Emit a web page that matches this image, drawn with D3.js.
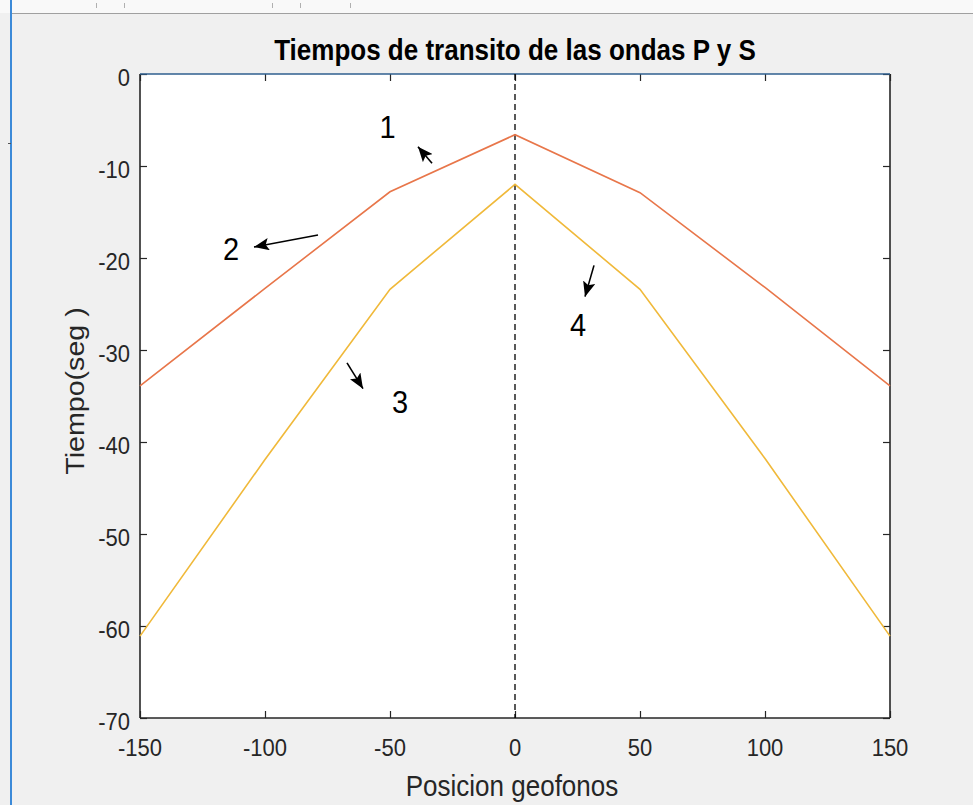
<!DOCTYPE html>
<html>
<head>
<meta charset="utf-8">
<script src="https://cdn.jsdelivr.net/npm/d3@7"></script>
<style>
  html, body { margin: 0; padding: 0; background: #f0f0f0; }
  svg { display: block; font-family: "Liberation Sans", Arial, Helvetica, sans-serif; }
</style>
</head>
<body>
<svg id="chart" width="973" height="805"></svg>
<script>
// Geophone positions (m) and travel times for the two wave types
const positions = [-150, -100, -50, 0, 50, 100, 150];
const waveP = [-33.9, -23.3, -12.8, -6.6, -12.9, -23.2, -33.9];
const waveS = [-61.1, -41.9, -23.4, -12.0, -23.4, -41.8, -61.1];
const xTicks = [-150, -100, -50, 0, 50, 100, 150];
const yTicks = [0, -10, -20, -30, -40, -50, -60, -70];

// Numbered callouts: label position and arrow (tail -> tip) in data units
const callouts = [
  { label: "1", lx: -51, ly: -5.8, x1: -33.2, y1: -9.7, x2: -38.8, y2: -7.9 },
  { label: "2", lx: -113.6, ly: -19.0, x1: -78.8, y1: -17.5, x2: -104.4, y2: -18.8 },
  { label: "3", lx: -46, ly: -35.6, x1: -67.2, y1: -31.4, x2: -60.8, y2: -34.2 },
  { label: "4", lx: 25.2, ly: -27.3, x1: 31.6, y1: -20.8, x2: 28, y2: -24.2 }
];

const svg = d3.select("#chart");
const W = 973, H = 805;
const ink = "#262626";
const stretch = 1.1; // text is drawn slightly taller than wide

// Window frame: light strip on top with a divider and a blue edge at left
svg.append("rect").attr("x", 0).attr("y", 0).attr("width", W).attr("height", H).attr("fill", "#f0f0f0");
svg.append("rect").attr("x", 0).attr("y", 0).attr("width", W).attr("height", 13).attr("fill", "#f9f9f9");
svg.append("line").attr("x1", 10).attr("x2", W).attr("y1", 13.5).attr("y2", 13.5).attr("stroke", "#a0a0a0").attr("stroke-width", 1);
[96, 124, 272, 300, 350].forEach(px => {
  svg.append("line").attr("x1", px + 0.5).attr("x2", px + 0.5).attr("y1", 3).attr("y2", 8).attr("stroke", "#b0b0b0");
});
svg.append("line").attr("x1", 11).attr("x2", 11).attr("y1", 0).attr("y2", H).attr("stroke", "#3c8ad8").attr("stroke-width", 2);
svg.append("line").attr("x1", 8).attr("x2", 11).attr("y1", 143.5).attr("y2", 143.5).attr("stroke", "#555");

const m = { left: 140, right: 890, top: 74, bottom: 718 };
const x = d3.scaleLinear().domain([-150, 150]).range([m.left, m.right]);
const y = d3.scaleLinear().domain([-70, 0]).range([m.bottom, m.top]);

// Plot area
svg.append("rect")
  .attr("x", m.left).attr("y", m.top)
  .attr("width", m.right - m.left).attr("height", m.bottom - m.top)
  .attr("fill", "#ffffff");

// Ticks on all four sides, pointing inward
const tickLen = 7;
const axes = [
  svg.append("g").attr("transform", `translate(0,${m.bottom})`)
    .call(d3.axisBottom(x).tickValues(xTicks).tickSizeInner(-tickLen).tickSizeOuter(0).tickFormat("")),
  svg.append("g").attr("transform", `translate(0,${m.top})`)
    .call(d3.axisTop(x).tickValues(xTicks).tickSizeInner(-tickLen).tickSizeOuter(0).tickFormat("")),
  svg.append("g").attr("transform", `translate(${m.left},0)`)
    .call(d3.axisLeft(y).tickValues(yTicks).tickSizeInner(-tickLen).tickSizeOuter(0).tickFormat("")),
  svg.append("g").attr("transform", `translate(${m.right},0)`)
    .call(d3.axisRight(y).tickValues(yTicks).tickSizeInner(-tickLen).tickSizeOuter(0).tickFormat(""))
];
axes.forEach(g => {
  g.select(".domain").remove();
  g.selectAll(".tick line").attr("stroke", ink).attr("stroke-width", 1.2);
});

// Tick labels (plain hyphen minus)
const fmt = d => String(d);
svg.append("g").selectAll("text").data(xTicks).join("text")
  .attr("transform", d => `translate(${x(d)},756) scale(1,${stretch})`)
  .attr("text-anchor", "middle").attr("font-size", 22).attr("fill", ink)
  .text(fmt);
svg.append("g").selectAll("text").data(yTicks).join("text")
  .attr("transform", d => `translate(130,${y(d) + 11.5}) scale(1,${stretch})`)
  .attr("text-anchor", "end").attr("font-size", 22).attr("fill", ink)
  .text(fmt);

// Box outline
const box = [[m.left, m.bottom, m.right, m.bottom, ink], [m.left, m.top, m.left, m.bottom, ink],
             [m.right, m.top, m.right, m.bottom, ink], [m.left, m.top, m.right, m.top, "#2f5f8f"]];
box.forEach(b => {
  svg.append("line").attr("x1", b[0]).attr("y1", b[1]).attr("x2", b[2]).attr("y2", b[3])
    .attr("stroke", b[4]).attr("stroke-width", 1.6);
});

// Source position marker (dashed vertical at x = 0)
svg.append("line")
  .attr("x1", x(0)).attr("x2", x(0)).attr("y1", y(0)).attr("y2", y(-70))
  .attr("stroke", "#000").attr("stroke-width", 1.3).attr("stroke-dasharray", "6,4");

// Travel-time curves
const line = d3.line().x(d => x(d[0])).y(d => y(d[1]));
svg.append("path")
  .datum(positions.map((p, i) => [p, waveP[i]]))
  .attr("d", line).attr("fill", "none").attr("stroke", "#e8764a").attr("stroke-width", 1.6);
svg.append("path")
  .datum(positions.map((p, i) => [p, waveS[i]]))
  .attr("d", line).attr("fill", "none").attr("stroke", "#f0b93a").attr("stroke-width", 1.6);

// Arrowheads for the callouts
svg.append("defs").append("marker")
  .attr("id", "head").attr("viewBox", "0 0 12 10")
  .attr("refX", 12).attr("refY", 5)
  .attr("markerWidth", 15).attr("markerHeight", 12.5)
  .attr("markerUnits", "userSpaceOnUse")
  .attr("orient", "auto")
  .append("path").attr("d", "M0,0 L12,5 L0,10 L2.5,5 Z").attr("fill", "#000");

callouts.forEach(c => {
  svg.append("line")
    .attr("x1", x(c.x1)).attr("y1", y(c.y1)).attr("x2", x(c.x2)).attr("y2", y(c.y2))
    .attr("stroke", "#000").attr("stroke-width", 1.6).attr("marker-end", "url(#head)");
  svg.append("text")
    .attr("transform", `translate(${x(c.lx)},${y(c.ly) + 11}) scale(1,1.05)`)
    .attr("text-anchor", "middle")
    .attr("font-size", 29).attr("fill", "#000").text(c.label);
});

// Title and axis labels
svg.append("text")
  .attr("transform", `translate(515,60) scale(1,${stretch})`)
  .attr("text-anchor", "middle").attr("font-size", 26).attr("font-weight", "bold").attr("fill", "#000")
  .text("Tiempos de transito de las ondas P y S");
svg.append("text")
  .attr("transform", `translate(512,796) scale(1,${stretch})`)
  .attr("text-anchor", "middle").attr("font-size", 26).attr("fill", ink)
  .text("Posicion geofonos");
svg.append("text")
  .attr("transform", `translate(84,391) scale(1,${stretch}) rotate(-90)`)
  .attr("text-anchor", "middle").attr("font-size", 26).attr("fill", ink)
  .text("Tiempo(seg )");
</script>
</body>
</html>
